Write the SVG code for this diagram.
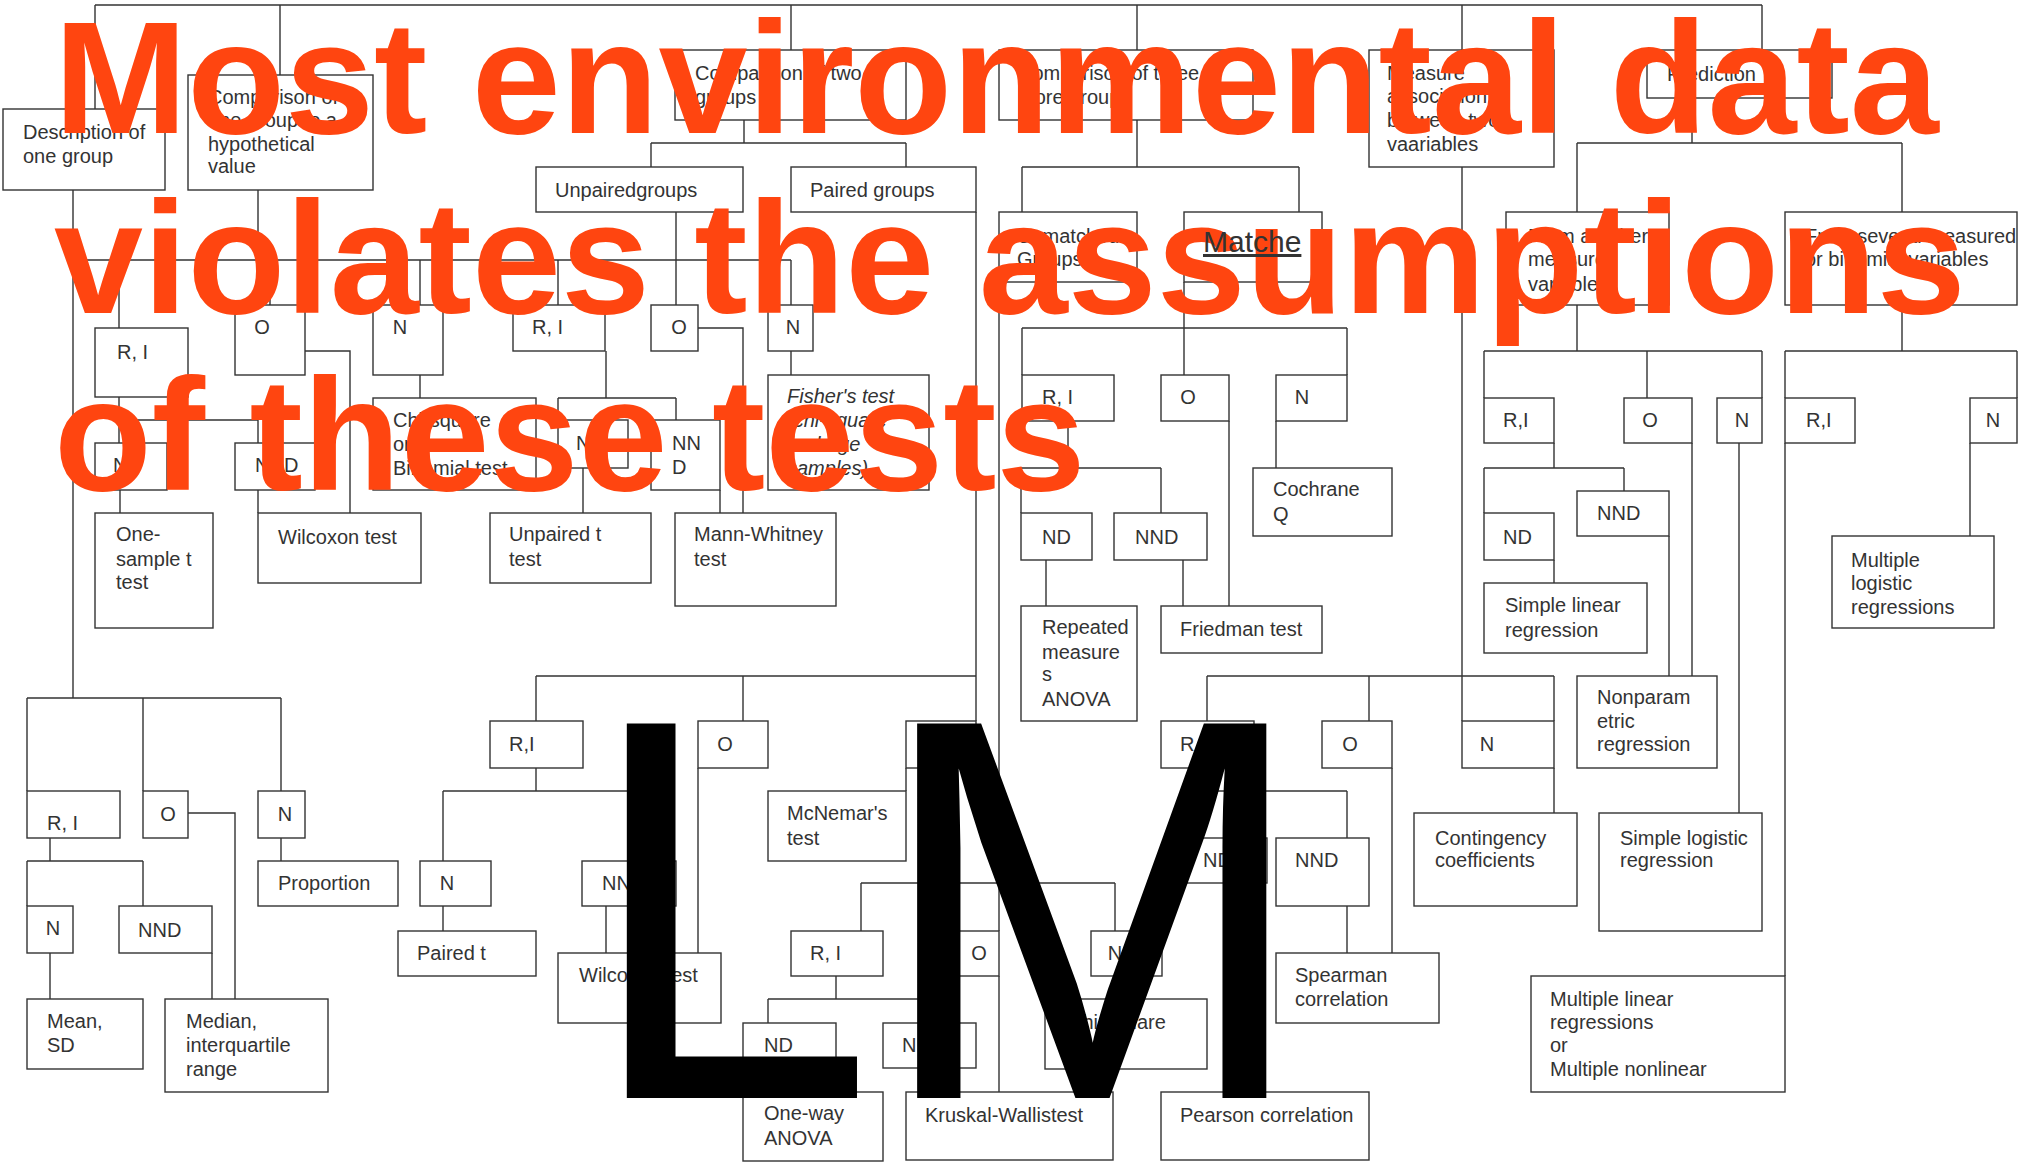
<svg xmlns="http://www.w3.org/2000/svg" width="2027" height="1163" viewBox="0 0 2027 1163">
<style>
.bg{fill:#fff}
.box{fill:#fff;stroke:#333;stroke-width:1.4}
.ln{fill:none;stroke:#333;stroke-width:1.4}
.t{font-family:"Liberation Sans",Arial,Helvetica,sans-serif;font-size:20px;fill:#333}
.c{text-anchor:middle}
.i{font-style:italic}
.big{font-family:"Liberation Sans",Arial,Helvetica,sans-serif;font-weight:bold;font-size:160px;fill:#ff4510}
.lm{font-family:"Liberation Sans",Arial,Helvetica,sans-serif;font-size:522px;fill:#000}
</style>
<rect class="bg" x="0" y="0" width="2027" height="1163"/>

<!-- connectors -->
<g id="connectors" class="ln">
  <!-- root -->
  <path d="M95 5H1762M95 5V109M280 5V75M791 5V50M1137 5V50M1462 5V50M1762 5V50"/>
  <!-- description of one group -->
  <path d="M73 190V698M27 698H281M27 698V791M143 698V791M281 698V791"/>
  <path d="M50 838V861M27 861H143M27 861V906M143 861V906"/>
  <path d="M188 813H235V999M281 838V861M50 953V999M212 953V999"/>
  <!-- comparison of one group -->
  <path d="M258 190V260M73 260H791M119 260V328M270 260V305M420 260V305"/>
  <path d="M119 397V443M119 420H258V443M120 490V513M305 351H350V513M420 375V398M258 490V513"/>
  <!-- comparison of two groups -->
  <path d="M744 120V143M651 143H906M651 143V167M906 143V167"/>
  <path d="M676 212V305M558 260V305M791 260V305"/>
  <path d="M606 351V398M558 398H676M558 398V420M676 398V420M698 328H743V513M791 351V375M583 468V513M720 490V513"/>
  <path d="M976 212V721M536 676H976M536 676V721M743 676V721"/>
  <path d="M536 768V791M443 791H640M443 791V861M640 791V861M443 906V931M606 906V953M698 768V953M906 768V791"/>
  <!-- comparison of three or more groups -->
  <path d="M1137 120V167M1022 167H1299M1022 167V212M1299 167V212"/>
  <path d="M999 282V931M861 883H1115M861 883V931M1115 883V931M999 976V1092"/>
  <path d="M836 976V999M768 999H930M768 999V1023M930 999V1023M790 1068V1092M940 1068V1092M1115 976V999"/>
  <path d="M1184 282V375M1022 328H1347M1022 328V375M1347 328V375"/>
  <path d="M1068 421V468M1021 468H1161M1021 468V513M1161 468V513M1046 560V606M1183 560V606M1229 421V606M1276 421V468"/>
  <!-- measure of association -->
  <path d="M1462 167V721M1207 676H1554M1207 676V721M1369 676V721M1554 676V721"/>
  <path d="M1392 768V953M1554 768V813M1207 768V791M1207 791H1347M1347 791V838M1230 791V838M1347 906V953M1245 883V1092"/>
  <!-- prediction -->
  <path d="M1692 98V143M1577 143H1902M1577 143V212M1902 143V212"/>
  <path d="M1577 305V351M1484 351H1762M1484 351V398M1647 351V398M1762 351V398"/>
  <path d="M1902 305V351M1785 351H2017M1785 351V398M2017 351V398"/>
  <path d="M1554 443V468M1484 468H1624M1484 468V513M1624 468V491M1554 560V583M1669 536V676M1692 443V676M1739 443V813M1785 443V976M1970 443V536"/>
</g>

<!-- top level questions -->
<g id="desc"><rect class="box" x="3" y="109" width="162" height="81"/><text class="t" x="23" y="139">Description of<tspan x="23" y="163">one group</tspan></text></g>
<g id="cmp1"><rect class="box" x="188" y="75" width="185" height="115"/><text class="t" x="208" y="104">Comparison of<tspan x="208" y="127">one group to a</tspan><tspan x="208" y="151">hypothetical</tspan><tspan x="208" y="173">value</tspan></text></g>
<g id="cmp2"><rect class="box" x="675" y="50" width="231" height="70"/><text class="t" x="695" y="80">Comparison of two<tspan x="695" y="104">groups</tspan></text></g>
<g id="cmp3"><rect class="box" x="999" y="50" width="254" height="70"/><text class="t" x="1018" y="80">Comparison of three or<tspan x="1018" y="104">more groups</tspan></text></g>
<g id="assoc"><rect class="box" x="1369" y="50" width="185" height="117"/><text class="t" x="1387" y="80">Measure<tspan x="1387" y="103">association</tspan><tspan x="1387" y="127">between two</tspan><tspan x="1387" y="151">vaariables</tspan></text></g>
<g id="pred"><rect class="box" x="1647" y="50" width="185" height="48"/><text class="t" x="1667" y="81">Prediction</text></g>

<!-- second level -->
<g id="unpaired"><rect class="box" x="536" y="167" width="207" height="45"/><text class="t" x="555" y="197">Unpairedgroups</text></g>
<g id="paired"><rect class="box" x="791" y="167" width="185" height="45"/><text class="t" x="810" y="197">Paired groups</text></g>
<g id="unmatched"><rect class="box" x="999" y="212" width="138" height="70"/><text class="t" x="1017" y="243">Unmatched<tspan x="1017" y="266">Groups</tspan></text></g>
<g id="matched"><rect class="box" x="1184" y="212" width="138" height="70"/></g>
<g id="from-another"><rect class="box" x="1506" y="212" width="163" height="93"/><text class="t" x="1528" y="243">From another<tspan x="1528" y="266">measured</tspan><tspan x="1528" y="291">variable</tspan></text></g>
<g id="from-several"><rect class="box" x="1785" y="212" width="232" height="93"/><text class="t" x="1805" y="243">From several measured<tspan x="1805" y="266">or binomial variables</tspan></text></g>

<!-- one group vs hypothetical value -->
<g id="c1-ri"><rect class="box" x="95" y="328" width="93" height="69"/><text class="t" x="117" y="359">R, I</text></g>
<g id="c1-o"><rect class="box" x="235" y="305" width="70" height="70"/><text class="t c" x="262" y="334">O</text></g>
<g id="c1-n"><rect class="box" x="373" y="305" width="70" height="70"/><text class="t c" x="400" y="334">N</text></g>
<g id="c1-nd"><rect class="box" x="95" y="443" width="72" height="47"/><text class="t" x="113" y="472">N</text></g>
<g id="c1-nnd"><rect class="box" x="235" y="443" width="80" height="47"/><text class="t" x="255" y="472">NND</text></g>
<g id="one-sample-t"><rect class="box" x="95" y="513" width="118" height="115"/><text class="t" x="116" y="541">One-<tspan x="116" y="566">sample t</tspan><tspan x="116" y="589">test</tspan></text></g>
<g id="wilcoxon-1"><rect class="box" x="258" y="513" width="163" height="70"/><text class="t" x="278" y="544">Wilcoxon test</text></g>
<g id="chisq-1"><rect class="box" x="373" y="398" width="163" height="92"/><text class="t" x="393" y="427">Chi-square<tspan x="393" y="451">or</tspan><tspan x="393" y="475">Binomial test</tspan></text></g>

<!-- unpaired groups -->
<g id="u-ri"><rect class="box" x="513" y="305" width="92" height="46"/><text class="t" x="532" y="334">R, I</text></g>
<g id="u-o"><rect class="box" x="651" y="305" width="47" height="46"/><text class="t c" x="679" y="334">O</text></g>
<g id="u-n"><rect class="box" x="768" y="305" width="45" height="46"/><text class="t c" x="793" y="334">N</text></g>
<g id="u-nd"><rect class="box" x="558" y="420" width="70" height="48"/><text class="t" x="576" y="450">N</text></g>
<g id="u-nnd"><rect class="box" x="651" y="420" width="69" height="70"/><text class="t" x="672" y="450">NN<tspan x="672" y="474">D</tspan></text></g>
<g id="fisher"><rect class="box" x="768" y="375" width="161" height="115"/><text class="t i" x="787" y="403">Fisher's test<tspan x="787" y="427">(chi-square</tspan><tspan x="787" y="451">for large</tspan><tspan x="787" y="475">samples)</tspan></text></g>
<g id="unpaired-t"><rect class="box" x="490" y="513" width="161" height="70"/><text class="t" x="509" y="541">Unpaired t<tspan x="509" y="566">test</tspan></text></g>
<g id="mann-whitney"><rect class="box" x="675" y="513" width="161" height="93"/><text class="t" x="694" y="541">Mann-Whitney<tspan x="694" y="566">test</tspan></text></g>

<!-- paired groups -->
<g id="p-ri"><rect class="box" x="490" y="721" width="93" height="47"/><text class="t" x="509" y="751">R,I</text></g>
<g id="p-o"><rect class="box" x="698" y="721" width="70" height="47"/><text class="t c" x="725" y="751">O</text></g>
<g id="p-n"><rect class="box" x="906" y="721" width="70" height="47"/><text class="t c" x="938" y="751">N</text></g>
<g id="p-nd"><rect class="box" x="420" y="861" width="71" height="45"/><text class="t c" x="447" y="890">N</text></g>
<g id="p-nnd"><rect class="box" x="582" y="861" width="94" height="45"/><text class="t" x="602" y="890">NND</text></g>
<g id="paired-t"><rect class="box" x="398" y="931" width="138" height="45"/><text class="t" x="417" y="960">Paired t</text></g>
<g id="wilcoxon-2"><rect class="box" x="558" y="953" width="163" height="70"/><text class="t" x="579" y="982">Wilcoxon test</text></g>
<g id="mcnemar"><rect class="box" x="768" y="791" width="138" height="70"/><text class="t" x="787" y="820">McNemar's<tspan x="787" y="845">test</tspan></text></g>

<!-- description of one group -->
<g id="d-ri"><rect class="box" x="27" y="791" width="93" height="47"/><text class="t" x="47" y="830">R, I</text></g>
<g id="d-o"><rect class="box" x="143" y="791" width="45" height="47"/><text class="t c" x="168" y="821">O</text></g>
<g id="d-n"><rect class="box" x="258" y="791" width="47" height="47"/><text class="t c" x="285" y="821">N</text></g>
<g id="d-nd"><rect class="box" x="27" y="906" width="46" height="47"/><text class="t c" x="53" y="935">N</text></g>
<g id="d-nnd"><rect class="box" x="119" y="906" width="93" height="47"/><text class="t" x="138" y="937">NND</text></g>
<g id="proportion"><rect class="box" x="258" y="861" width="140" height="45"/><text class="t" x="278" y="890">Proportion</text></g>
<g id="mean-sd"><rect class="box" x="27" y="999" width="116" height="70"/><text class="t" x="47" y="1028">Mean,<tspan x="47" y="1052">SD</tspan></text></g>
<g id="median"><rect class="box" x="165" y="999" width="163" height="93"/><text class="t" x="186" y="1028">Median,<tspan x="186" y="1052">interquartile</tspan><tspan x="186" y="1076">range</tspan></text></g>

<!-- matched groups -->
<g id="m-ri"><rect class="box" x="1022" y="375" width="92" height="46"/><text class="t" x="1042" y="404">R, I</text></g>
<g id="m-o"><rect class="box" x="1161" y="375" width="68" height="46"/><text class="t c" x="1188" y="404">O</text></g>
<g id="m-n"><rect class="box" x="1276" y="375" width="71" height="46"/><text class="t c" x="1302" y="404">N</text></g>
<g id="m-nd"><rect class="box" x="1021" y="513" width="71" height="47"/><text class="t" x="1042" y="544">ND</text></g>
<g id="m-nnd"><rect class="box" x="1114" y="513" width="93" height="47"/><text class="t" x="1135" y="544">NND</text></g>
<g id="cochrane"><rect class="box" x="1253" y="468" width="139" height="68"/><text class="t" x="1273" y="496">Cochrane<tspan x="1273" y="521">Q</tspan></text></g>
<g id="rm-anova"><rect class="box" x="1021" y="606" width="116" height="115"/><text class="t" x="1042" y="634">Repeated<tspan x="1042" y="659">measure</tspan><tspan x="1042" y="681">s</tspan><tspan x="1042" y="706">ANOVA</tspan></text></g>
<g id="friedman"><rect class="box" x="1161" y="606" width="161" height="47"/><text class="t" x="1180" y="636">Friedman test</text></g>

<!-- unmatched groups -->
<g id="um-ri"><rect class="box" x="791" y="931" width="92" height="45"/><text class="t" x="810" y="960">R, I</text></g>
<g id="um-o"><rect class="box" x="952" y="931" width="47" height="45"/><text class="t c" x="979" y="960">O</text></g>
<g id="um-n"><rect class="box" x="1091" y="931" width="71" height="45"/><text class="t c" x="1115" y="960">N</text></g>
<g id="um-nd"><rect class="box" x="743" y="1023" width="93" height="45"/><text class="t" x="764" y="1052">ND</text></g>
<g id="um-nnd"><rect class="box" x="883" y="1023" width="93" height="45"/><text class="t" x="902" y="1052">NND</text></g>
<g id="one-way-anova"><rect class="box" x="743" y="1092" width="140" height="69"/><text class="t" x="764" y="1120">One-way<tspan x="764" y="1145">ANOVA</tspan></text></g>
<g id="kruskal"><rect class="box" x="906" y="1092" width="207" height="68"/><text class="t" x="925" y="1122">Kruskal-Wallistest</text></g>
<g id="chisq-2"><rect class="box" x="1045" y="999" width="162" height="70"/><text class="t" x="1068" y="1029">Chi-square</text></g>

<!-- association between two variables -->
<g id="a-ri"><rect class="box" x="1161" y="721" width="93" height="47"/><text class="t" x="1180" y="751">R,I</text></g>
<g id="a-o"><rect class="box" x="1322" y="721" width="70" height="47"/><text class="t c" x="1350" y="751">O</text></g>
<g id="a-n"><rect class="box" x="1462" y="721" width="92" height="47"/><text class="t c" x="1487" y="751">N</text></g>
<g id="a-nd"><rect class="box" x="1187" y="838" width="80" height="45"/><text class="t" x="1203" y="867">ND</text></g>
<g id="a-nnd"><rect class="box" x="1276" y="838" width="93" height="68"/><text class="t" x="1295" y="867">NND</text></g>
<g id="spearman"><rect class="box" x="1276" y="953" width="163" height="70"/><text class="t" x="1295" y="982">Spearman<tspan x="1295" y="1006">correlation</tspan></text></g>
<g id="pearson"><rect class="box" x="1161" y="1092" width="208" height="68"/><text class="t" x="1180" y="1122">Pearson correlation</text></g>
<g id="contingency"><rect class="box" x="1414" y="813" width="163" height="93"/><text class="t" x="1435" y="845">Contingency<tspan x="1435" y="867">coefficients</tspan></text></g>

<!-- prediction -->
<g id="fa-ri"><rect class="box" x="1484" y="398" width="70" height="45"/><text class="t" x="1503" y="427">R,I</text></g>
<g id="fa-o"><rect class="box" x="1624" y="398" width="68" height="45"/><text class="t c" x="1650" y="427">O</text></g>
<g id="fa-n"><rect class="box" x="1717" y="398" width="45" height="45"/><text class="t c" x="1742" y="427">N</text></g>
<g id="fa-nd"><rect class="box" x="1484" y="513" width="70" height="47"/><text class="t" x="1503" y="544">ND</text></g>
<g id="fa-nnd"><rect class="box" x="1577" y="491" width="92" height="45"/><text class="t" x="1597" y="520">NND</text></g>
<g id="simple-linear"><rect class="box" x="1484" y="583" width="163" height="70"/><text class="t" x="1505" y="612">Simple linear<tspan x="1505" y="637">regression</tspan></text></g>
<g id="nonparametric"><rect class="box" x="1577" y="676" width="140" height="92"/><text class="t" x="1597" y="704">Nonparam<tspan x="1597" y="728">etric</tspan><tspan x="1597" y="751">regression</tspan></text></g>
<g id="simple-logistic"><rect class="box" x="1599" y="813" width="163" height="118"/><text class="t" x="1620" y="845">Simple logistic<tspan x="1620" y="867">regression</tspan></text></g>
<g id="fs-ri"><rect class="box" x="1785" y="398" width="70" height="45"/><text class="t" x="1806" y="427">R,I</text></g>
<g id="fs-n"><rect class="box" x="1970" y="398" width="47" height="45"/><text class="t c" x="1993" y="427">N</text></g>
<g id="multiple-logistic"><rect class="box" x="1832" y="536" width="162" height="92"/><text class="t" x="1851" y="567">Multiple<tspan x="1851" y="590">logistic</tspan><tspan x="1851" y="614">regressions</tspan></text></g>
<g id="multiple-linear"><rect class="box" x="1531" y="976" width="254" height="116"/><text class="t" x="1550" y="1006">Multiple linear<tspan x="1550" y="1029">regressions</tspan><tspan x="1550" y="1052">or</tspan><tspan x="1550" y="1076">Multiple nonlinear</tspan></text></g>

<!-- headline overlay -->
<g id="headline">
  <text class="big" x="54" y="133">Most environmental data</text>
  <text class="big" x="54" y="313">violates the assumptions</text>
  <text class="big" x="54" y="490">of these tests</text>
</g>
<!-- the matched-groups label sits above the headline -->
<text id="matched-label" class="t" x="1203" y="252" style="font-size:30px" text-decoration="underline">Matche</text>
<g id="lm-label"><text class="lm" x="584" y="0" transform="translate(0,1098) scale(1,1.043)">LM</text></g>
</svg>
